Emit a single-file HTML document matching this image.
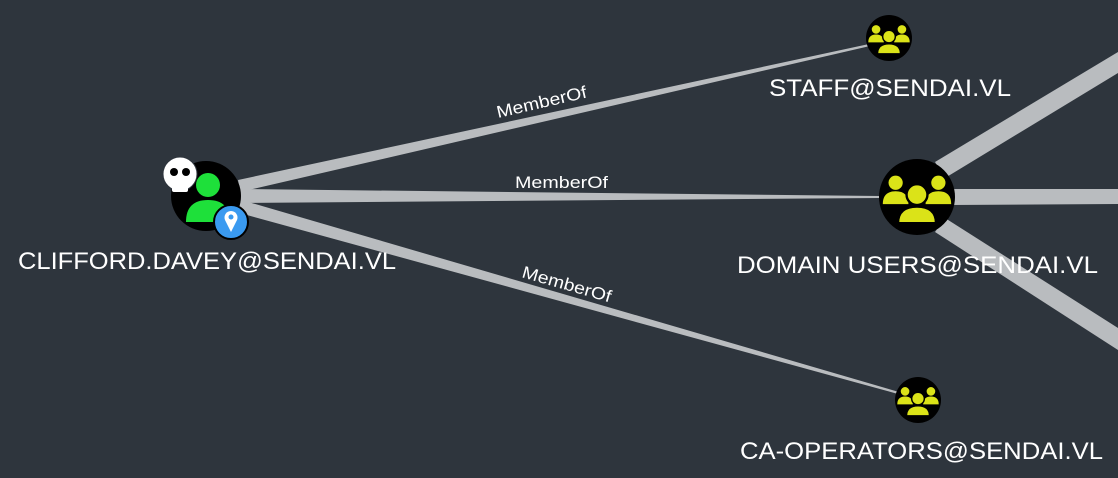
<!DOCTYPE html>
<html><head><style>
html,body{margin:0;padding:0;background:#2e353d;}
svg{display:block}
text{font-family:"Liberation Sans",sans-serif;fill:#fff}
</style></head><body>
<svg width="1118" height="478" viewBox="0 0 1118 478" xmlns="http://www.w3.org/2000/svg">
<rect width="1118" height="478" fill="#2e353d"/>
<g fill="#b9bcbf">
<polygon points="238,180 240,192 870,46 869,44"/>
<polygon points="238,189 238,203 880,198 880,196"/>
<polygon points="238,199 236,212 898,394 899,392"/>
<polygon points="935,162 945,178 1118,73 1118,52"/>
<polygon points="950,189 950,205 1118,204 1118,189"/>
<polygon points="945,218 935,232 1118,350 1118,328"/>
</g>
<text x="498" y="118" font-size="17" textLength="92" lengthAdjust="spacingAndGlyphs" transform="rotate(-13 498 118)">MemberOf</text>
<text x="515" y="188" font-size="17" textLength="93" lengthAdjust="spacingAndGlyphs">MemberOf</text>
<text x="521" y="277" font-size="17" textLength="92" lengthAdjust="spacingAndGlyphs" transform="rotate(16 521 277)">MemberOf</text>
<!-- main user node -->
<circle cx="206" cy="196" r="35" fill="#000"/>
<circle cx="208" cy="185" r="12" fill="#1ee03a"/>
<path d="M186 222 Q186 200 208 200 Q230 200 230 222 Z" fill="#1ee03a"/>
<circle cx="180" cy="174" r="17" fill="#fff" stroke="#2e353d" stroke-width="1"/>
<rect x="172" y="184" width="16" height="8" rx="2" fill="#fff"/>
<circle cx="174" cy="172" r="4" fill="#000"/><circle cx="186" cy="172" r="4" fill="#000"/>
<circle cx="231" cy="222" r="17" fill="#3a9af0" stroke="#000" stroke-width="2"/>
<path d="M231 232 L225 220 A6.5 6.5 0 1 1 237 220 Z" fill="#fff"/>
<circle cx="231" cy="217" r="2.5" fill="#3a9af0"/>
<text x="18" y="269" font-size="24" textLength="378" lengthAdjust="spacingAndGlyphs">CLIFFORD.DAVEY@SENDAI.VL</text>
<defs>
<g id="grp">
<circle r="1" fill="#000"/>
<g transform="scale(1.25)">
<circle cx="-0.45" cy="-0.3" r="0.15" fill="#dbe318"/>
<circle cx="0.45" cy="-0.3" r="0.15" fill="#dbe318"/>
<path d="M-0.72 0.15 Q-0.72 -0.12 -0.45 -0.12 Q-0.18 -0.12 -0.18 0.15 Z" fill="#dbe318"/>
<path d="M0.18 0.15 Q0.18 -0.12 0.45 -0.12 Q0.72 -0.12 0.72 0.15 Z" fill="#dbe318"/>
<circle cx="0" cy="-0.05" r="0.22" fill="#dbe318" stroke="#000" stroke-width="0.05"/>
<path d="M-0.4 0.55 Q-0.4 0.2 0 0.2 Q0.4 0.2 0.4 0.55 Z" fill="#dbe318" stroke="#000" stroke-width="0.05"/>
</g>
</g>
</defs>
<use href="#grp" transform="translate(889,38) scale(23)"/>
<use href="#grp" transform="translate(917,197) scale(38)"/>
<use href="#grp" transform="translate(918,400) scale(23)"/>
<text x="769" y="96" font-size="24" textLength="242" lengthAdjust="spacingAndGlyphs">STAFF@SENDAI.VL</text>
<text x="737" y="273" font-size="24" textLength="361" lengthAdjust="spacingAndGlyphs">DOMAIN USERS@SENDAI.VL</text>
<text x="740" y="459" font-size="24" textLength="363" lengthAdjust="spacingAndGlyphs">CA-OPERATORS@SENDAI.VL</text>
</svg>
</body></html>
